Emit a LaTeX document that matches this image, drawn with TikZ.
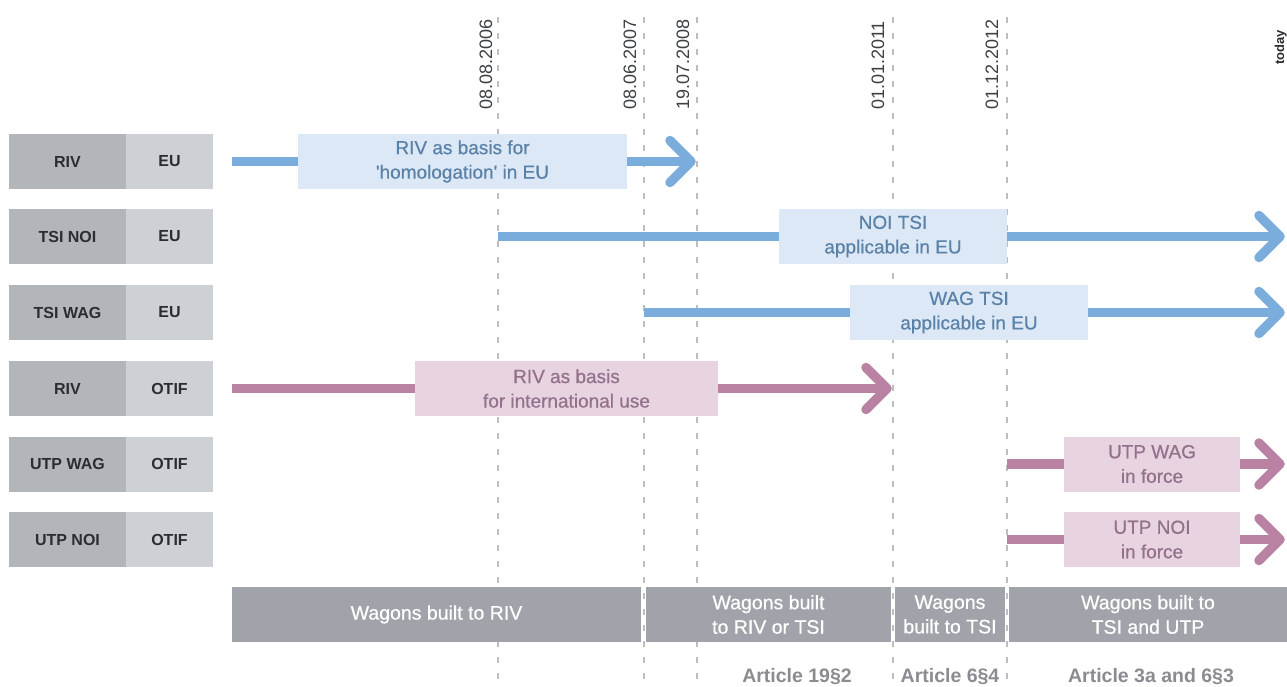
\documentclass[tikz,border=0pt]{standalone}
\usepackage{fontspec}
\setmainfont{Liberation Sans}
\newfontfamily\medfont[FakeBold=0.6]{Liberation Sans}
\usetikzlibrary{calc}
\definecolor{bluebar}{HTML}{7BADDC}
\definecolor{bluebox}{HTML}{DCE8F5}
\definecolor{bluetext}{HTML}{5A82A8}
\definecolor{pinkbar}{HTML}{BA82A2}
\definecolor{pinkbox}{HTML}{E7D4E0}
\definecolor{pinktext}{HTML}{93718A}
\definecolor{lbdark}{HTML}{B2B5BA}
\definecolor{lblight}{HTML}{CDD0D4}
\definecolor{lbtext}{HTML}{2A2D32}
\definecolor{barfill}{HTML}{A0A3A9}
\definecolor{dashcol}{HTML}{BEBEC2}
\definecolor{datecol}{HTML}{3C3F44}
\definecolor{artcol}{HTML}{8A8C91}
\newcommand{\chevron}[2]{\draw[chev,#2] ($(#1)+(-21,-21)$) -- (#1) -- ($(#1)+(-21,21)$);}
\begin{document}
\begin{tikzpicture}[x=1pt,y=-1pt,
  every node/.style={inner sep=0pt, outer sep=0pt},
  guide/.style={draw=dashcol, line width=1.8pt, dash pattern=on 6pt off 10pt},
  datelabel/.style={rotate=90, anchor=base west, text=datecol, font=\fontsize{18}{18}\selectfont},
  lbl/.style={minimum height=55pt, text=lbtext, font=\bfseries\fontsize{16}{16}\selectfont},
  lbdarkbox/.style={lbl, fill=lbdark, minimum width=117pt},
  lblightbox/.style={lbl, fill=lblight, minimum width=87pt, anchor=west},
  boxtext/.style={minimum height=55pt, align=center, font=\medfont\fontsize{19}{24.5}\selectfont},
  bluebox/.style={boxtext, fill=bluebox, text=bluetext},
  pinkbox/.style={boxtext, fill=pinkbox, text=pinktext},
  blueline/.style={draw=bluebar, line width=9.5pt},
  pinkline/.style={draw=pinkbar, line width=9.5pt},
  chev/.style={line width=9.5pt, line cap=round, line join=round},
  period/.style={minimum height=55pt, fill=barfill, text=white, align=center, font=\medfont\fontsize{19.5}{24.5}\selectfont},
  article/.style={anchor=base, text=artcol, font=\bfseries\fontsize{19.5}{19.5}\selectfont}
]
\useasboundingbox (0,0) rectangle (1287,687);
\fill[white] (0,0) rectangle (1287,687);

% guide lines
\foreach \gx/\gn in {498/g1,644/g2,697/g3,893/g4,1007/g5}{
  \coordinate (\gn top) at (\gx,17);
  \coordinate (\gn bot) at (\gx,687);
  \draw[guide] (\gn top) -- (\gn bot);
}

% date labels
\node[datelabel] (d1) at (492,110) {08.08.2006};
\node[datelabel] (d2) at (636,110) {08.06.2007};
\node[datelabel] (d3) at (689,110) {19.07.2008};
\node[datelabel] (d4) at (884,110) {01.01.2011};
\node[datelabel] (d5) at (998,110) {01.12.2012};
\node[rotate=90, anchor=base west, text=lbtext, font=\bfseries\fontsize{13}{13}\selectfont] (today) at (1284,65) {today};

% left labels
\node[lbdarkbox] (l1a) at (67.5,161.5) {RIV};     \node[lblightbox] (l1b) at (l1a.east) {EU};
\node[lbdarkbox] (l2a) at (67.5,236.5) {TSI NOI}; \node[lblightbox] (l2b) at (l2a.east) {EU};
\node[lbdarkbox] (l3a) at (67.5,312.5) {TSI WAG}; \node[lblightbox] (l3b) at (l3a.east) {EU};
\node[lbdarkbox] (l4a) at (67.5,388.5) {RIV};     \node[lblightbox] (l4b) at (l4a.east) {OTIF};
\node[lbdarkbox] (l5a) at (67.5,464)   {UTP WAG}; \node[lblightbox] (l5b) at (l5a.east) {OTIF};
\node[lbdarkbox] (l6a) at (67.5,539.5) {UTP NOI}; \node[lblightbox] (l6b) at (l6a.east) {OTIF};

% bar start and tip coordinates
\coordinate (s1) at (232,161.5);  \coordinate (t1) at (691,161.5);
\coordinate (s2) at (498,236.5);  \coordinate (t2) at (1280,236.5);
\coordinate (s3) at (644,312.5);  \coordinate (t3) at (1280,312.5);
\coordinate (s4) at (232,388.5);  \coordinate (t4) at (887,388.5);
\coordinate (s5) at (1007,464);   \coordinate (t5) at (1280,464);
\coordinate (s6) at (1007,539.5); \coordinate (t6) at (1280,539.5);

\draw[blueline] (s1) -- (t1); \chevron{t1}{draw=bluebar}
\draw[blueline] (s2) -- (t2); \chevron{t2}{draw=bluebar}
\draw[blueline] (s3) -- (t3); \chevron{t3}{draw=bluebar}
\draw[pinkline] (s4) -- (t4); \chevron{t4}{draw=pinkbar}
\draw[pinkline] (s5) -- (t5); \chevron{t5}{draw=pinkbar}
\draw[pinkline] (s6) -- (t6); \chevron{t6}{draw=pinkbar}

% boxes on bars
\node[bluebox, minimum width=329pt] (b1) at (462.5,161.5) {RIV as basis for\\\textquotesingle homologation\textquotesingle{} in EU};
\node[bluebox, minimum width=228pt] (b2) at (893,236.5) {NOI TSI\\applicable in EU};
\node[bluebox, minimum width=238pt] (b3) at (969,312.5) {WAG TSI\\applicable in EU};
\node[pinkbox, minimum width=303pt] (b4) at (566.5,388.5) {RIV as basis\\for international use};
\node[pinkbox, minimum width=176pt] (b5) at (1152,464) {UTP WAG\\in force};
\node[pinkbox, minimum width=176pt] (b6) at (1152,539.5) {UTP NOI\\in force};

% bottom periods
\node[period, minimum width=409pt] (p1) at (436.5,614.5) {Wagons built to RIV};
\node[period, minimum width=245pt] (p2) at (768.5,614.5) {Wagons built\\to RIV or TSI};
\node[period, minimum width=110pt] (p3) at (950,614.5) {Wagons\\built to TSI};
\node[period, minimum width=278pt] (p4) at (1148,614.5) {Wagons built to\\TSI and UTP};

% articles
\node[article] (a2) at (797,682) {Article 19§2};
\node[article] (a3) at (950,682) {Article 6§4};
\node[article] (a4) at (1151,682) {Article 3a and 6§3};
\end{tikzpicture}
\end{document}
